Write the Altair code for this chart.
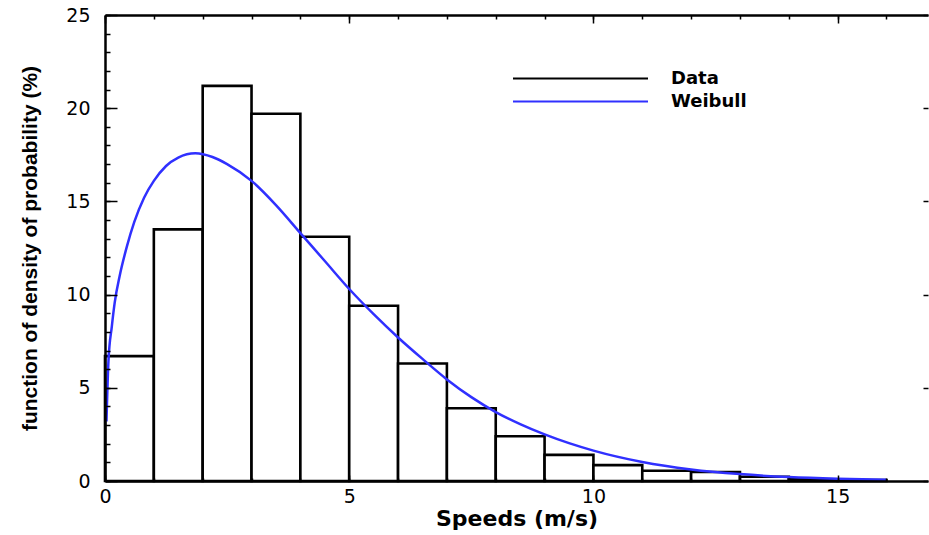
import altair as alt
import pandas as pd

# ---------------- data ----------------
bin_start = [0, 1, 2, 3, 4, 5, 6, 7, 8, 9, 10, 11, 12, 13, 14, 15]
bin_end = [1, 2, 3, 4, 5, 6, 7, 8, 9, 10, 11, 12, 13, 14, 15, 16]
bar_pct = [6.7, 13.5, 21.2, 19.7, 13.1, 9.4, 6.3, 3.9, 2.4, 1.4, 0.85, 0.55, 0.48, 0.23, 0.09, 0.05]

curve_speed = [0.03, 0.07, 0.14, 0.2, 0.3, 0.45, 0.6, 0.8, 1.0, 1.25, 1.5, 1.85, 2.2, 2.5,
               3.0, 3.5, 4.0, 4.5, 5.0, 5.5, 6.0, 6.5, 7.0, 7.5, 8.0, 8.5, 9.0, 9.5,
               10.0, 11.0, 12.0, 13.0, 14.0, 15.0, 16.0]
curve_pct = [3.2, 6.4, 8.3, 9.6, 11.0, 12.6, 13.9, 15.2, 16.1, 16.9, 17.35, 17.58, 17.38, 17.0,
             16.1, 14.8, 13.3, 11.8, 10.3, 8.95, 7.7, 6.55, 5.45, 4.5, 3.7, 3.05, 2.5, 2.03,
             1.63, 1.02, 0.62, 0.37, 0.21, 0.12, 0.07]

series_names = ["Data", "Weibull"]
series_colors = ["#000000", "#3030ff"]

x_major = [0, 5, 10, 15]
x_minor = [0, 1, 2, 3, 4, 5, 6, 7, 8, 9, 10, 11, 12, 13, 14, 15, 16]
y_major = [0, 5, 10, 15, 20, 25]
y_minor = [0, 1, 2, 3, 4, 5, 6, 7, 8, 9, 10, 11, 12, 13, 14, 15, 16, 17, 18, 19, 20,
           21, 22, 23, 24, 25]

x_title = "Speeds (m/s)"
y_title = "function of density of probability  (%)"

# ---------------- tables ----------------
bars_df = pd.DataFrame({"start": bin_start, "end": bin_end, "pct": bar_pct,
                        "series": [series_names[0]] * len(bin_start)})
curve_df = pd.DataFrame({"speed": curve_speed, "pct": curve_pct,
                         "series": [series_names[1]] * len(curve_speed)})

FONT = "DejaVu Sans"
TITLE_FONT_Y = "Liberation Sans"

xs = alt.Scale(domain=[0, 16.85], nice=False, zero=False)
ys = alt.Scale(domain=[0, 25], nice=False)


def ax(**kw):
    base = dict(grid=False, domainColor="black", tickColor="black", labelColor="black",
                titleColor="black", zindex=1, labelFlush=False, labelOverlap=False,
                tickWidth=1.5, domainWidth=2.5)
    base.update(kw)
    return alt.Axis(**base)


def tick_axis(orient, offset, size, values):
    return ax(orient=orient, offset=offset, tickSize=size, values=values,
              domain=False, labels=False, ticks=True)


stroke_enc = alt.Stroke(
    "series:N",
    scale=alt.Scale(domain=series_names, range=series_colors),
    legend=alt.Legend(
        title=None, orient="none", legendX=407, legendY=53, direction="vertical",
        symbolType="stroke", symbolSize=135 * 135, symbolStrokeWidth=2,
        clipHeight=21, rowPadding=2, padding=0, labelOffset=22,
        labelFont=FONT, labelFontSize=18, labelFontWeight="bold", labelColor="black",
    ),
)

bars = alt.Chart(bars_df).mark_bar(fill="white", strokeWidth=2.6).encode(
    x=alt.X("start:Q", scale=xs, title=x_title,
            axis=ax(orient="bottom", domain=True, ticks=False, tickSize=0, labels=True,
                    values=x_major, labelPadding=6, labelFont=FONT, labelFontSize=19,
                    titleFont=FONT, titleFontSize=22, titleFontWeight="bold",
                    titlePadding=2)),
    x2="end:Q",
    y=alt.Y("pct:Q", scale=ys, title=y_title,
            axis=ax(orient="left", domain=True, ticks=False, tickSize=0, labels=False,
                    titleFont=TITLE_FONT_Y, titleFontSize=21, titleFontWeight="bold",
                    titlePadding=65)),
    y2=alt.datum(0),
    stroke=stroke_enc,
)

curve = alt.Chart(curve_df).mark_line(strokeWidth=2.5, interpolate="monotone").encode(
    x=alt.X("speed:Q", scale=xs, title=None, axis=tick_axis("bottom", -6, 6, x_major)),
    y=alt.Y("pct:Q", scale=ys, title=None,
            axis=ax(orient="left", offset=-12, domain=False, ticks=True, tickSize=12,
                    values=y_major, labels=True, labelPadding=15, labelFont=FONT,
                    labelFontSize=19)),
    stroke=stroke_enc,
)

ghost1 = alt.Chart(curve_df).mark_line(strokeOpacity=0).encode(
    x=alt.X("speed:Q", scale=xs, title=None, axis=tick_axis("bottom", -3, 3, x_minor)),
    y=alt.Y("pct:Q", scale=ys, title=None, axis=tick_axis("left", -5, 5, y_minor)),
)
ghost2 = alt.Chart(curve_df).mark_line(strokeOpacity=0).encode(
    x=alt.X("speed:Q", scale=xs, title=None,
            axis=ax(orient="top", domain=True, ticks=False, tickSize=0, labels=False)),
    y=alt.Y("pct:Q", scale=ys, title=None, axis=tick_axis("right", -5, 5, y_major)),
)
ghost3 = alt.Chart(curve_df).mark_line(strokeOpacity=0).encode(
    x=alt.X("speed:Q", scale=xs, title=None, axis=tick_axis("top", -8, 8, x_major)),
    y=alt.Y("pct:Q", scale=ys, axis=None),
)
ghost4 = alt.Chart(curve_df).mark_line(strokeOpacity=0).encode(
    x=alt.X("speed:Q", scale=xs, title=None, axis=tick_axis("top", -4, 4, x_minor)),
    y=alt.Y("pct:Q", scale=ys, axis=None),
)

chart = (
    alt.layer(bars, curve, ghost1, ghost2, ghost3, ghost4)
    .resolve_axis(x="independent", y="independent")
    .properties(width=823, height=466,
                autosize=alt.AutoSizeParams(type="none"),
                padding={"left": 105, "top": 15, "right": 1, "bottom": 54},
                background="white")
    .configure_view(stroke=None)
)

chart.save("out.html", embed_options={"renderer": "svg", "actions": False})
